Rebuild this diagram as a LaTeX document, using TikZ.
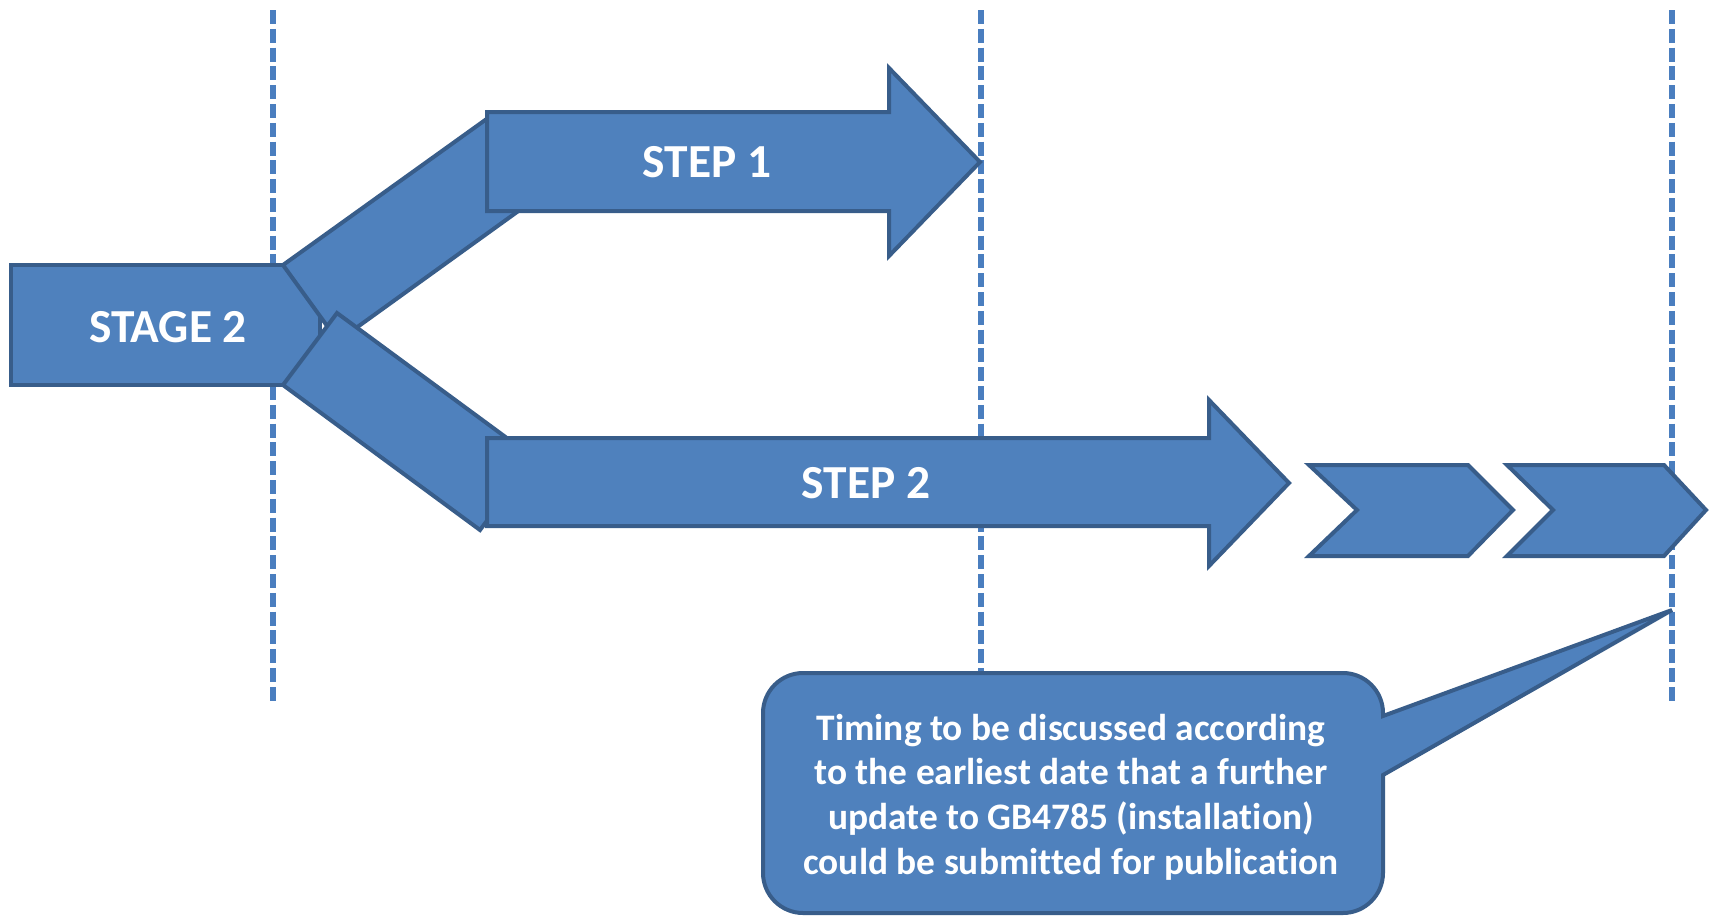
\documentclass[tikz,border=0pt]{standalone}
\usepackage{fontspec}
\setmainfont{Carlito}[Ligatures=NoCommon]
\definecolor{fillblue}{HTML}{4F81BD}
\definecolor{edgeblue}{HTML}{385D8A}
\definecolor{dashblue}{HTML}{4A7EBF}
\tikzset{
  shp/.style={fill=fillblue, draw=edgeblue, line width=2pt, line join=miter},
  guide/.style={draw=dashblue, line width=2.7pt, dash pattern=on 7pt off 2.4pt},
  bigtxt/.style={text=white, font=\bfseries\fontsize{23.7}{27}\selectfont, inner sep=0pt},
  notetxt/.style={text=white, font=\bfseries\fontsize{18.7}{22.3}\selectfont, align=center, inner sep=0pt}
}
\begin{document}
\begin{tikzpicture}[x=0.5pt,y=-0.5pt]
\useasboundingbox (0,0) rectangle (1709,916);
% guide lines
\coordinate (g1a) at (273,10); \coordinate (g1b) at (273,703);
\coordinate (g2a) at (981,10); \coordinate (g2b) at (981,673);
\coordinate (g3a) at (1672,10); \coordinate (g3b) at (1672,703);
\draw[guide] (g1a) -- (g1b);
\draw[guide] (g2a) -- (g2b);
\draw[guide] (g3a) -- (g3b);
% stage block
\draw[shp] (11,265) -- (320,265) -- (320,385) -- (11,385) -- cycle;
% upper branch
\draw[shp] (283,265) -- (488,118) -- (542,194) -- (338,341) -- cycle;
% lower branch
\draw[shp] (337,313) -- (534,458) -- (480,530) -- (283,385) -- cycle;
% step 1 arrow
\draw[shp] (487,112) -- (889,112) -- (889,68) -- (980,162) -- (889,256) -- (889,211) -- (487,211) -- cycle;
% step 2 arrow
\draw[shp] (487,438) -- (1209,438) -- (1209,400) -- (1289,483) -- (1209,566) -- (1209,526) -- (487,526) -- cycle;
% chevrons
\draw[shp] (1309,465) -- (1468,465) -- (1513,510) -- (1468,556) -- (1309,556) -- (1357,510) -- cycle;
\draw[shp] (1507,465) -- (1664,465) -- (1706,510) -- (1664,556) -- (1507,556) -- (1553,510) -- cycle;
% callout
\draw[shp] (803,673) -- (1343,673) .. controls (1365,673) and (1383,691) .. (1383,713)
  -- (1383,716) -- (1672,610) -- (1383,775)
  -- (1383,873) .. controls (1383,895) and (1365,913) .. (1343,913)
  -- (803,913) .. controls (781,913) and (763,895) .. (763,873)
  -- (763,713) .. controls (763,691) and (781,673) .. (803,673) -- cycle;
% texts
\node[bigtxt] (stage) at (168,327) {STAGE 2};
\node[bigtxt] (step1) at (707,162) {STEP 1};
\node[bigtxt] (step2) at (866,483) {STEP 2};
\node[notetxt] (note) at (1071,797) {Timing to be discussed according\\to the earliest date that a further\\update to GB4785 (installation)\\could be submitted for publication};
\end{tikzpicture}
\end{document}
